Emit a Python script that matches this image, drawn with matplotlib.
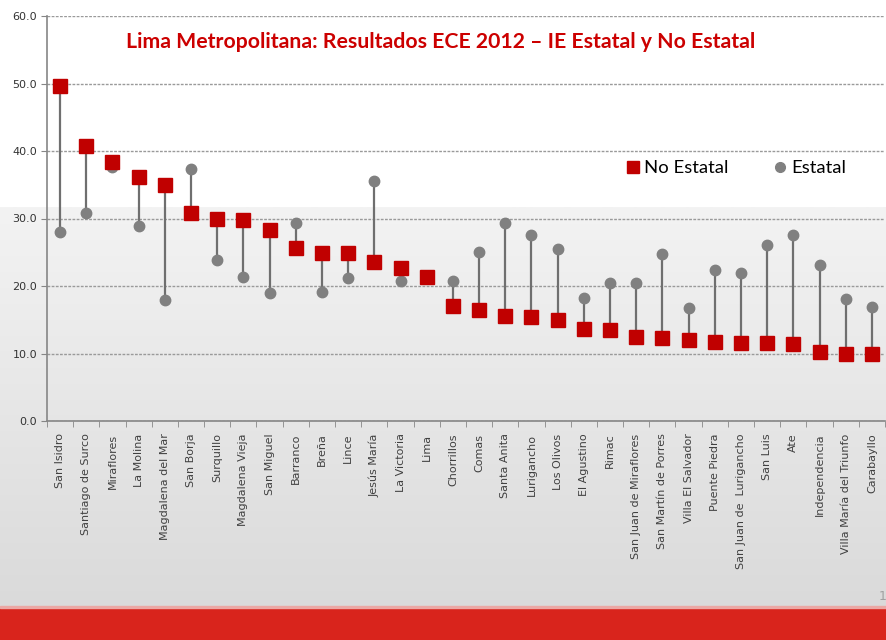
import numpy as np
import matplotlib
matplotlib.use("Agg")
import matplotlib.pyplot as plt
from matplotlib.colors import LinearSegmentedColormap
from matplotlib.lines import Line2D
from matplotlib.patches import Rectangle

# Districts ordered by No Estatal result (ECE 2012)
districts = ["San Isidro", "Santiago de Surco", "Miraflores", "La Molina",
             "Magdalena del Mar", "San Borja", "Surquillo", "Magdalena Vieja",
             "San Miguel", "Barranco", "Breña", "Lince", "Jesús María",
             "La Victoria", "Lima", "Chorrillos", "Comas", "Santa Anita",
             "Lurigancho", "Los Olivos", "El Agustino", "Rimac",
             "San Juan de Miraflores", "San Martín de Porres",
             "Villa El Salvador", "Puente Piedra", "San Juan de  Lurigancho",
             "San Luis", "Ate", "Independencia", "Villa María del Triunfo",
             "Carabayllo"]
no_estatal = [49.7, 40.7, 38.4, 36.1, 35.0, 30.8, 29.9, 29.8, 28.3, 25.7,
              24.9, 24.9, 23.6, 22.7, 21.4, 17.0, 16.5, 15.6, 15.4, 14.9,
              13.7, 13.5, 12.5, 12.3, 12.0, 11.7, 11.6, 11.6, 11.4, 10.2,
              9.9, 9.9]
estatal = [28.0, 30.8, 37.6, 28.9, 17.9, 37.3, 23.8, 21.4, 18.9, 29.4,
           19.1, 21.2, 35.6, 20.8, 21.5, 20.7, 25.0, 29.4, 27.6, 25.5,
           18.2, 20.4, 20.5, 24.8, 16.8, 22.3, 21.9, 26.1, 27.6, 23.1,
           18.1, 16.9]
yticks = [0, 10, 20, 30, 40, 50, 60]

W, H = 887, 640
fig = plt.figure(figsize=(W / 100, H / 100), dpi=100)

# slide background: white top, grey gradient, red band at the bottom
bg = fig.add_axes([0, 0, 1, 1])
bg.axis("off")
cmap = LinearSegmentedColormap.from_list("g", ["#dadada", "#f3f3f3"])
grad = np.linspace(0, 1, 256).reshape(-1, 1)
bg.imshow(grad, extent=[0, 1, 1 - 608 / H, 1 - 207 / H], cmap=cmap,
          aspect="auto", origin="lower")
bg.add_patch(Rectangle((0, 0), 1, 32 / H, color="#d9241c"))
bg.add_patch(Rectangle((0, 32 / H), 1, 2 / H, color="#eba7a4"))
bg.text(879 / W, 1 - 597 / H, "1", color="#a0a0a0", fontsize=9,
        ha="left", va="center")
bg.set_xlim(0, 1)
bg.set_ylim(0, 1)

ax = fig.add_axes([47 / W, 1 - 421 / H, 838 / W, 405 / H])
ax.set_facecolor("none")
ax.set_zorder(2)

x = np.arange(len(districts))
ax.vlines(x, estatal, no_estatal, color="#6f6f6f", lw=1.6, zorder=2)
ax.plot(x, estatal, "o", color="#808080", ms=7.5, zorder=3)
ax.plot(x, no_estatal, "s", color="#c00000", ms=9.5, zorder=4)

ax.set_xlim(-0.5, len(districts) - 0.5)
ax.set_ylim(0, 60)
ax.set_yticks(yticks)
ax.set_yticklabels([f"{v:.1f}" for v in yticks], fontsize=8, color="#333333")
ax.set_xticks(x)
ax.set_xticklabels(districts, rotation=90, fontsize=8, color="#404040")
ax.set_xticks(np.arange(len(districts) + 1) - 0.5, minor=True)
ax.tick_params(axis="x", which="major", length=0, pad=9)
ax.tick_params(axis="x", which="minor", length=4, color="#868686")
ax.tick_params(axis="y", length=4, color="#868686", pad=3)

ax.yaxis.grid(True, linestyle=(0, (2, 1)), color="#9a9a9a", lw=1)
ax.set_axisbelow(True)
for s in ["top", "right"]:
    ax.spines[s].set_visible(False)
for s in ["left", "bottom"]:
    ax.spines[s].set_color("#868686")
    ax.spines[s].set_linewidth(1.2)

fig.text(441 / W, 1 - 42 / H,
         "Lima Metropolitana: Resultados ECE 2012 \u2013 IE Estatal y No Estatal",
         color="#cc0000", fontsize=15.3, fontweight="bold", ha="center",
         va="center", family=["Lato", "DejaVu Sans"])

handles = [Line2D([], [], marker="s", color="#c00000", ls="none", ms=9,
                  label="No Estatal"),
           Line2D([], [], marker="o", color="#808080", ls="none", ms=7,
                  label="Estatal")]
fig.legend(handles=handles, loc="center", ncol=2, frameon=False,
           bbox_to_anchor=(735 / W, 1 - 168 / H),
           handletextpad=0.1, columnspacing=2.3, handlelength=1,
           prop={"family": ["Lato", "DejaVu Sans"], "size": 13.3})

fig.savefig("out.png", dpi=100)
